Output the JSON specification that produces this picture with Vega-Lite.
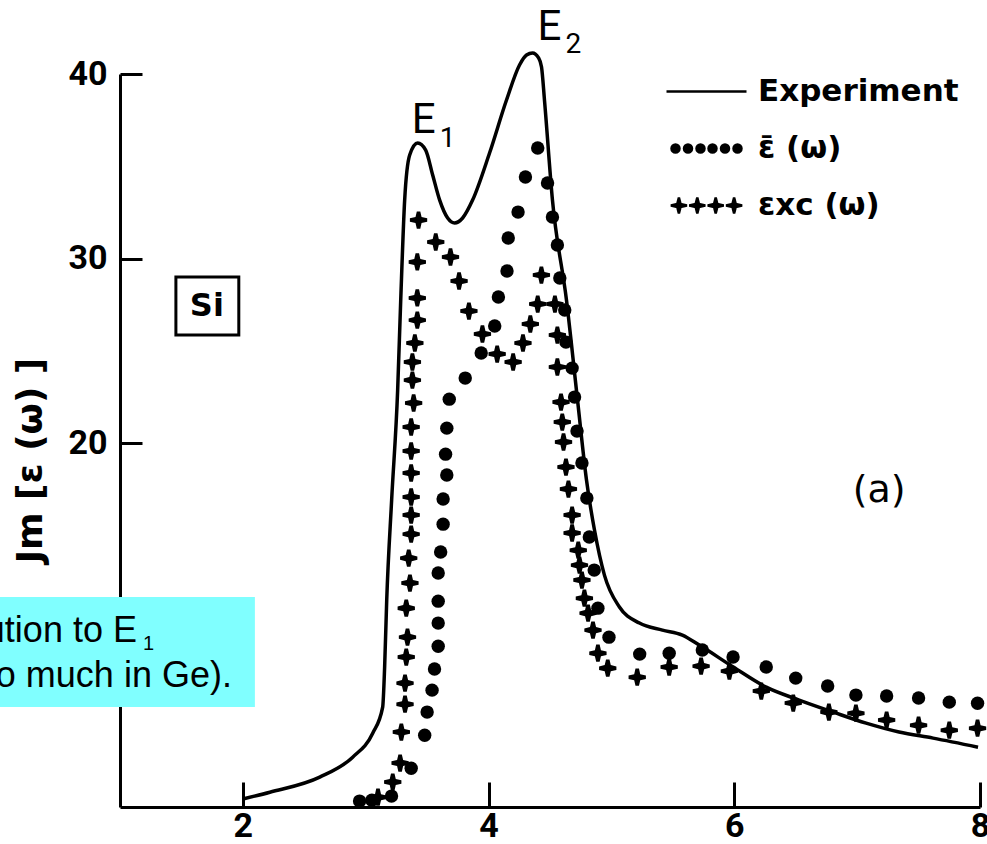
{
  "$schema": "https://vega.github.io/schema/vega-lite/v6.json",
  "width": 860,
  "height": 733,
  "autosize": {"type": "none"},
  "padding": {"left": 120, "top": 74, "right": 7, "bottom": 37},
  "background": "white",
  "config": {"view": {"stroke": null}},
  "datasets": {
    "experiment": [
      {"energy": 2.0, "im": 0.73}, {"energy": 2.22, "im": 1.1}, {"energy": 2.626, "im": 1.92}, {"energy": 2.894, "im": 3.0},
      {"energy": 3.057, "im": 4.3}, {"energy": 3.138, "im": 5.71}, {"energy": 3.154, "im": 7.88}, {"energy": 3.171, "im": 11.51},
      {"energy": 3.211, "im": 16.92}, {"energy": 3.26, "im": 22.88}, {"energy": 3.285, "im": 27.76}, {"energy": 3.317, "im": 33.17},
      {"energy": 3.358, "im": 35.61}, {"energy": 3.423, "im": 36.26}, {"energy": 3.488, "im": 35.88}, {"energy": 3.545, "im": 34.53},
      {"energy": 3.602, "im": 33.17}, {"energy": 3.667, "im": 32.2}, {"energy": 3.724, "im": 31.93}, {"energy": 3.789, "im": 32.2},
      {"energy": 3.87, "im": 33.17}, {"energy": 4.008, "im": 35.72}, {"energy": 4.146, "im": 38.59}, {"energy": 4.252, "im": 40.49},
      {"energy": 4.309, "im": 41.03}, {"energy": 4.358, "im": 41.14}, {"energy": 4.407, "im": 40.87}, {"energy": 4.431, "im": 40.38},
      {"energy": 4.455, "im": 38.59}, {"energy": 4.52, "im": 33.17}, {"energy": 4.634, "im": 27.76}, {"energy": 4.724, "im": 22.34},
      {"energy": 4.797, "im": 18.01}, {"energy": 4.862, "im": 15.3}, {"energy": 4.943, "im": 12.86}, {"energy": 5.065, "im": 11.13},
      {"energy": 5.228, "im": 10.26}, {"energy": 5.415, "im": 9.88}, {"energy": 5.577, "im": 9.61}, {"energy": 5.715, "im": 9.07},
      {"energy": 5.992, "im": 7.88}, {"energy": 6.26, "im": 6.79}, {"energy": 6.528, "im": 6.09}, {"energy": 6.805, "im": 5.44},
      {"energy": 7.073, "im": 4.84}, {"energy": 7.341, "im": 4.36}, {"energy": 7.618, "im": 4.03}, {"energy": 7.984, "im": 3.54}
    ],
    "ebar": [
      {"energy": 2.95, "im": 0.62}, {"energy": 3.05, "im": 0.67}, {"energy": 3.21, "im": 0.89}, {"energy": 3.37, "im": 2.4},
      {"energy": 3.48, "im": 4.19}, {"energy": 3.5, "im": 5.44}, {"energy": 3.54, "im": 6.63}, {"energy": 3.56, "im": 7.77},
      {"energy": 3.59, "im": 9.01}, {"energy": 3.59, "im": 10.26}, {"energy": 3.59, "im": 11.45}, {"energy": 3.59, "im": 12.97},
      {"energy": 3.61, "im": 14.11}, {"energy": 3.63, "im": 15.62}, {"energy": 3.63, "im": 16.98}, {"energy": 3.66, "im": 18.28},
      {"energy": 3.65, "im": 19.41}, {"energy": 3.66, "im": 20.82}, {"energy": 3.68, "im": 22.39}, {"energy": 3.81, "im": 23.53},
      {"energy": 3.94, "im": 24.89}, {"energy": 4.05, "im": 26.35}, {"energy": 4.08, "im": 27.92}, {"energy": 4.15, "im": 29.33},
      {"energy": 4.16, "im": 31.12}, {"energy": 4.24, "im": 32.52}, {"energy": 4.3, "im": 34.42}, {"energy": 4.4, "im": 35.99},
      {"energy": 4.48, "im": 34.1}, {"energy": 4.52, "im": 32.25}, {"energy": 4.56, "im": 30.74}, {"energy": 4.58, "im": 28.95},
      {"energy": 4.62, "im": 27.22}, {"energy": 4.63, "im": 25.48}, {"energy": 4.68, "im": 24.07}, {"energy": 4.7, "im": 22.5},
      {"energy": 4.72, "im": 20.66}, {"energy": 4.76, "im": 18.93}, {"energy": 4.8, "im": 17.03}, {"energy": 4.82, "im": 14.92},
      {"energy": 4.86, "im": 13.13}, {"energy": 4.89, "im": 11.07}, {"energy": 4.98, "im": 9.5}, {"energy": 5.23, "im": 8.58},
      {"energy": 5.47, "im": 8.63}, {"energy": 5.74, "im": 8.8}, {"energy": 5.99, "im": 8.42}, {"energy": 6.26, "im": 7.88},
      {"energy": 6.5, "im": 7.28}, {"energy": 6.76, "im": 6.85}, {"energy": 6.99, "im": 6.36}, {"energy": 7.24, "im": 6.31},
      {"energy": 7.5, "im": 6.2}, {"energy": 7.75, "im": 5.98}, {"energy": 7.98, "im": 5.92}
    ],
    "exc": [
      {"energy": 3.1, "im": 0.83}, {"energy": 3.22, "im": 1.65}, {"energy": 3.28, "im": 2.68}, {"energy": 3.29, "im": 4.36},
      {"energy": 3.32, "im": 5.87}, {"energy": 3.32, "im": 7.01}, {"energy": 3.33, "im": 8.42}, {"energy": 3.34, "im": 9.5},
      {"energy": 3.33, "im": 11.07}, {"energy": 3.36, "im": 12.43}, {"energy": 3.35, "im": 13.78}, {"energy": 3.37, "im": 15.08},
      {"energy": 3.37, "im": 16.11}, {"energy": 3.37, "im": 17.09}, {"energy": 3.37, "im": 18.39}, {"energy": 3.37, "im": 19.58},
      {"energy": 3.37, "im": 20.88}, {"energy": 3.39, "im": 22.18}, {"energy": 3.38, "im": 23.42}, {"energy": 3.38, "im": 24.4},
      {"energy": 3.4, "im": 25.43}, {"energy": 3.42, "im": 26.67}, {"energy": 3.42, "im": 27.87}, {"energy": 3.42, "im": 29.82},
      {"energy": 3.43, "im": 32.09}, {"energy": 3.57, "im": 30.9}, {"energy": 3.69, "im": 30.09}, {"energy": 3.76, "im": 28.79},
      {"energy": 3.84, "im": 27.16}, {"energy": 3.95, "im": 25.92}, {"energy": 4.07, "im": 24.83}, {"energy": 4.2, "im": 24.4},
      {"energy": 4.28, "im": 25.43}, {"energy": 4.34, "im": 26.46}, {"energy": 4.4, "im": 27.54}, {"energy": 4.43, "im": 29.11},
      {"energy": 4.54, "im": 27.54}, {"energy": 4.56, "im": 25.86}, {"energy": 4.56, "im": 24.13}, {"energy": 4.59, "im": 22.23},
      {"energy": 4.6, "im": 21.15}, {"energy": 4.61, "im": 20.07}, {"energy": 4.63, "im": 18.71}, {"energy": 4.65, "im": 17.52},
      {"energy": 4.68, "im": 16.11}, {"energy": 4.68, "im": 15.14}, {"energy": 4.73, "im": 14.21}, {"energy": 4.74, "im": 13.4},
      {"energy": 4.76, "im": 12.59}, {"energy": 4.78, "im": 11.61}, {"energy": 4.81, "im": 10.8}, {"energy": 4.85, "im": 9.88},
      {"energy": 4.89, "im": 8.63}, {"energy": 4.97, "im": 7.82}, {"energy": 5.21, "im": 7.33}, {"energy": 5.47, "im": 7.88},
      {"energy": 5.73, "im": 7.93}, {"energy": 5.96, "im": 7.66}, {"energy": 6.22, "im": 6.58}, {"energy": 6.48, "im": 5.93},
      {"energy": 6.77, "im": 5.44}, {"energy": 6.99, "im": 5.38}, {"energy": 7.24, "im": 5.01}, {"energy": 7.5, "im": 4.73},
      {"energy": 7.75, "im": 4.46}, {"energy": 7.98, "im": 4.57}
    ]
  },
  "layer": [
    {
      "data": {"name": "experiment"},
      "mark": {"type": "line", "color": "black", "strokeWidth": 3.5, "interpolate": "monotone"},
      "encoding": {
        "x": {
          "field": "energy", "type": "quantitative",
          "scale": {"domain": [1, 8], "nice": false, "zero": false},
          "axis": {
            "values": [2, 4, 6, 8], "format": "d", "title": null, "grid": false,
            "domainColor": "black", "domainWidth": 3, "tickColor": "black", "tickWidth": 3, "tickSize": -25,
            "labelFont": "Roboto", "labelFontSize": 34, "labelFontWeight": "bold", "labelColor": "black",
            "labelPadding": 27, "labelFlush": false, "labelOverlap": false
          }
        },
        "y": {
          "field": "im", "type": "quantitative",
          "scale": {"domain": [0.3, 40], "nice": false, "zero": false},
          "axis": {
            "values": [20, 30, 40], "format": "d", "grid": false,
            "domainColor": "black", "domainWidth": 3, "tickColor": "black", "tickWidth": 3, "tickSize": -22,
            "labelFont": "Roboto", "labelFontSize": 34, "labelFontWeight": "bold", "labelColor": "black",
            "labelPadding": 35, "labelOverlap": false,
            "title": "Jm [ε (ω) ]", "titleFont": "DejaVu Sans", "titleFontSize": 36, "titleFontWeight": "bold", "titleColor": "black",
            "titleAngle": 270, "titleX": -90, "titleY": 386, "titleAlign": "center", "titleBaseline": "middle"
          }
        }
      }
    },
    {
      "data": {"name": "ebar"},
      "mark": {"type": "point", "shape": "circle", "filled": true, "color": "black", "size": 180, "opacity": 1},
      "encoding": {"x": {"field": "energy", "type": "quantitative"}, "y": {"field": "im", "type": "quantitative"}}
    },
    {
      "data": {"name": "exc"},
      "mark": {"type": "point", "shape": "M-0.2,-1L0.2,-1L0.35,-0.35L1,-0.2L1,0.2L0.35,0.35L0.2,1L-0.2,1L-0.35,0.35L-1,0.2L-1,-0.2L-0.35,-0.35Z", "filled": true, "color": "black", "size": 300, "opacity": 1},
      "encoding": {"x": {"field": "energy", "type": "quantitative"}, "y": {"field": "im", "type": "quantitative"}}
    },
    {
      "data": {"values": [{"series": "Experiment"}, {"series": "ε̄ (ω)"}, {"series": "εxc (ω)"}]},
      "mark": {"type": "point", "filled": true, "fill": "black", "stroke": "black", "strokeWidth": 3, "opacity": 1, "clip": true, "size": 6400},
      "encoding": {
        "x": {"datum": -1},
        "y": {"datum": 20},
        "shape": {
          "field": "series", "type": "nominal",
          "scale": {
            "domain": ["Experiment", "ε̄ (ω)", "εxc (ω)"],
            "range": [
              "M-1,0L1,0",
              "M-0.875,0a0.1,0.1 0 1,0 0.2,0a0.1,0.1 0 1,0 -0.2,0ZM-0.5625,0a0.1,0.1 0 1,0 0.2,0a0.1,0.1 0 1,0 -0.2,0ZM-0.25,0a0.1,0.1 0 1,0 0.2,0a0.1,0.1 0 1,0 -0.2,0ZM0.05,0a0.1,0.1 0 1,0 0.2,0a0.1,0.1 0 1,0 -0.2,0ZM0.3625,0a0.1,0.1 0 1,0 0.2,0a0.1,0.1 0 1,0 -0.2,0ZM0.675,0a0.1,0.1 0 1,0 0.2,0a0.1,0.1 0 1,0 -0.2,0Z",
              "M-0.69,-0.2L-0.65,-0.04L-0.49,0L-0.65,0.04L-0.69,0.2L-0.73,0.04L-0.89,0L-0.73,-0.04ZM-0.23,-0.2L-0.19,-0.04L-0.03,0L-0.19,0.04L-0.23,0.2L-0.27,0.04L-0.43,0L-0.27,-0.04ZM0.23,-0.2L0.27,-0.04L0.43,0L0.27,0.04L0.23,0.2L0.19,0.04L0.03,0L0.19,-0.04ZM0.69,-0.2L0.73,-0.04L0.89,0L0.73,0.04L0.69,0.2L0.65,0.04L0.49,0L0.65,-0.04Z"
            ]
          },
          "legend": {
            "orient": "none", "legendX": 545, "legendY": -24, "title": null,
            "symbolSize": 6400, "symbolStrokeWidth": 2.5, "symbolOpacity": 1,
            "labelFont": "DejaVu Sans", "labelFontSize": 31, "labelFontWeight": "bold", "labelColor": "black",
            "labelOffset": 10, "rowPadding": -17, "labelLimit": 400
          }
        }
      }
    },
    {
      "data": {"values": [{}]},
      "mark": {"type": "rect", "filled": false, "color": "black", "strokeWidth": 3},
      "encoding": {"x": {"datum": 1.455}, "x2": {"datum": 1.967}, "y": {"datum": 29.0}, "y2": {"datum": 25.86}}
    },
    {
      "data": {"values": [{}]},
      "mark": {"type": "text", "text": "Si", "font": "DejaVu Sans", "fontSize": 32, "fontWeight": "bold", "color": "black", "align": "center", "baseline": "middle"},
      "encoding": {"x": {"datum": 1.707}, "y": {"datum": 27.43}}
    },
    {
      "data": {"values": [{}]},
      "mark": {"type": "text", "text": "E", "font": "Roboto", "fontSize": 42, "color": "black", "align": "left", "baseline": "alphabetic"},
      "encoding": {"x": {"datum": 3.374}, "y": {"datum": 36.8}}
    },
    {
      "data": {"values": [{}]},
      "mark": {"type": "text", "text": "1", "font": "Roboto", "fontSize": 28, "color": "black", "align": "left", "baseline": "alphabetic"},
      "encoding": {"x": {"datum": 3.602}, "y": {"datum": 36.05}}
    },
    {
      "data": {"values": [{}]},
      "mark": {"type": "text", "text": "E", "font": "Roboto", "fontSize": 42, "color": "black", "align": "left", "baseline": "alphabetic"},
      "encoding": {"x": {"datum": 4.398}, "y": {"datum": 41.84}}
    },
    {
      "data": {"values": [{}]},
      "mark": {"type": "text", "text": "2", "font": "Roboto", "fontSize": 28, "color": "black", "align": "left", "baseline": "alphabetic"},
      "encoding": {"x": {"datum": 4.626}, "y": {"datum": 41.14}}
    },
    {
      "data": {"values": [{}]},
      "mark": {"type": "text", "text": "(a)", "font": "DejaVu Sans", "fontSize": 38, "color": "black", "align": "center", "baseline": "middle"},
      "encoding": {"x": {"datum": 7.179}, "y": {"datum": 17.41}}
    },
    {
      "data": {"values": [{}]},
      "mark": {"type": "rect", "fill": "#80FFFF", "stroke": null},
      "encoding": {"x": {"datum": -0.05}, "x2": {"datum": 2.098}, "y": {"datum": 11.67}, "y2": {"datum": 5.71}}
    },
    {
      "data": {"values": [{}]},
      "mark": {"type": "text", "text": "ution to E", "font": "Liberation Sans", "fontSize": 36, "color": "black", "align": "right", "baseline": "alphabetic"},
      "encoding": {"x": {"datum": 1.138}, "y": {"datum": 9.23}}
    },
    {
      "data": {"values": [{}]},
      "mark": {"type": "text", "text": "1", "font": "Liberation Sans", "fontSize": 20, "color": "black", "align": "left", "baseline": "alphabetic"},
      "encoding": {"x": {"datum": 1.187}, "y": {"datum": 8.78}}
    },
    {
      "data": {"values": [{}]},
      "mark": {"type": "text", "text": "o much in Ge).", "font": "Liberation Sans", "fontSize": 36, "color": "black", "align": "right", "baseline": "alphabetic"},
      "encoding": {"x": {"datum": 1.911}, "y": {"datum": 6.79}}
    }
  ]
}
